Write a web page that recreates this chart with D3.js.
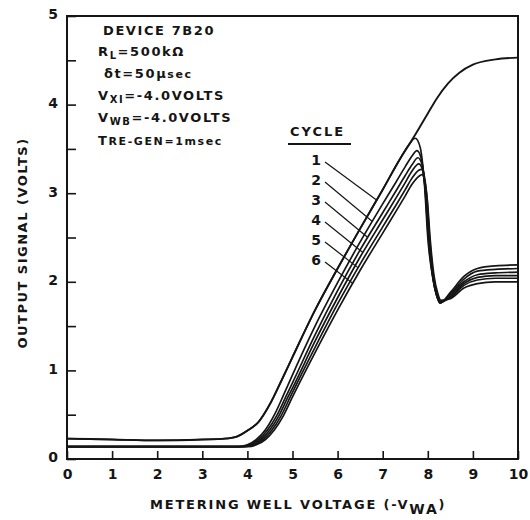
<!DOCTYPE html>
<html><head><meta charset="utf-8">
<script src="https://cdn.jsdelivr.net/npm/d3@7/dist/d3.min.js"></script>
<style>body{margin:0;background:#fff}svg{display:block}</style>
</head><body><svg id="c" width="530" height="520"></svg>
<script>
// ---- data ----
const xTicks = [0,1,2,3,4,5,6,7,8,9,10];
const xTickLabels = ["0","1","2","3","4","5","6","7","8","9","10"];
const yTicks = [0,0.5,1,1.5,2,2.5,3,3.5,4,4.5,5];
const yTickLabels = ["0","","1","","2","","3","","4","","5"];
const cycleNames = ["1","2","3","4","5","6"];

const cycle1 = [[0,0.23],[1,0.22],[2,0.21],[3,0.22],[3.5,0.23],[3.75,0.25],[4.0,0.32],[4.25,0.42],[4.5,0.62],[4.75,0.88],[5.0,1.15],[5.5,1.68],[6.0,2.15],[6.5,2.6],[7.0,3.04],[7.4,3.4],[7.6,3.56],[7.72,3.62],[7.83,3.52],[7.93,3.07],[8.0,2.5],[8.12,2.02],[8.2,1.84],[8.27,1.76],[8.5,1.88],[8.8,2.06],[9.1,2.15],[9.5,2.18],[10,2.19]];
const cycle2 = [[0,0.14],[1,0.14],[2,0.14],[3,0.14],[3.8,0.14],[4.0,0.16],[4.2,0.22],[4.4,0.33],[4.6,0.5],[4.8,0.72],[5.0,0.95],[5.5,1.5],[6.0,1.99],[6.5,2.45],[7.0,2.88],[7.3,3.13],[7.5,3.3],[7.65,3.42],[7.76,3.48],[7.85,3.4],[7.94,3.05],[8.01,2.5],[8.12,2.02],[8.2,1.84],[8.27,1.76],[8.5,1.86],[8.8,2.03],[9.1,2.12],[9.5,2.14],[10,2.15]];
const cycle3 = [[0,0.14],[1,0.14],[2,0.14],[3,0.14],[3.85,0.14],[4.05,0.16],[4.25,0.22],[4.45,0.33],[4.65,0.49],[4.85,0.7],[5.0,0.86],[5.5,1.4],[6.0,1.9],[6.5,2.36],[7.0,2.78],[7.3,3.03],[7.5,3.2],[7.65,3.32],[7.78,3.4],[7.87,3.33],[7.95,3.02],[8.02,2.5],[8.12,2.03],[8.2,1.84],[8.27,1.77],[8.5,1.85],[8.8,2.0],[9.1,2.08],[9.5,2.1],[10,2.11]];
const cycle4 = [[0,0.14],[1,0.14],[2,0.14],[3,0.14],[3.9,0.14],[4.1,0.16],[4.3,0.22],[4.5,0.33],[4.7,0.49],[4.9,0.7],[5.0,0.8],[5.5,1.33],[6.0,1.82],[6.5,2.28],[7.0,2.7],[7.3,2.95],[7.5,3.12],[7.65,3.25],[7.8,3.33],[7.88,3.27],[7.96,2.98],[8.03,2.5],[8.12,2.04],[8.2,1.85],[8.27,1.77],[8.5,1.83],[8.8,1.98],[9.1,2.05],[9.5,2.07],[10,2.07]];
const cycle5 = [[0,0.14],[1,0.14],[2,0.14],[3,0.14],[3.95,0.14],[4.15,0.16],[4.35,0.22],[4.55,0.33],[4.75,0.49],[4.95,0.7],[5.5,1.26],[6.0,1.75],[6.5,2.2],[7.0,2.62],[7.3,2.87],[7.5,3.04],[7.65,3.17],[7.8,3.26],[7.86,3.27],[7.92,3.2],[7.98,2.95],[8.04,2.5],[8.13,2.05],[8.21,1.86],[8.28,1.78],[8.5,1.82],[8.8,1.96],[9.1,2.02],[9.5,2.04],[10,2.04]];
const cycle6 = [[0,0.14],[1,0.14],[2,0.14],[3,0.14],[4.0,0.14],[4.2,0.16],[4.4,0.22],[4.6,0.33],[4.8,0.49],[5.0,0.7],[5.5,1.2],[6.0,1.68],[6.5,2.13],[7.0,2.55],[7.3,2.8],[7.5,2.97],[7.65,3.1],[7.8,3.19],[7.87,3.21],[7.93,3.14],[7.99,2.92],[8.05,2.5],[8.14,2.06],[8.22,1.87],[8.29,1.79],[8.5,1.81],[8.8,1.93],[9.1,1.98],[9.5,2.0],[10,2.0]];
// saturating trace continuing through the first peak
const upperTrace = [[0,0.23],[1,0.22],[2,0.21],[3,0.22],[3.5,0.23],[3.75,0.25],[4.0,0.32],[4.25,0.42],[4.5,0.62],[4.75,0.88],[5.0,1.15],[5.5,1.68],[6.0,2.15],[6.5,2.6],[7.0,3.04],[7.4,3.4],[7.6,3.56],[7.72,3.66],[8.0,3.9],[8.2,4.07],[8.45,4.24],[8.7,4.36],[9.0,4.45],[9.5,4.51],[10,4.53]];
// where each cycle's leader line touches its trace (data units)
const leaderEnds = [[6.87,2.92],[6.77,2.68],[6.67,2.5],[6.56,2.33],[6.45,2.16],[6.34,1.98]];

const cycles = [cycle1,cycle2,cycle3,cycle4,cycle5,cycle6];

// ---- drawing ----
const svg = d3.select("#c");
const W = 530, H = 520;
const x = d3.scaleLinear().domain([0,10]).range([67,518]);
const y = d3.scaleLinear().domain([0,5]).range([459,16]);
const ink = "#151515";
const font = "'DejaVu Sans', Verdana, sans-serif";

svg.append("rect").attr("width",W).attr("height",H).attr("fill","#fff");

// frame
svg.append("rect").attr("x",x(0)).attr("y",y(5)).attr("width",x(10)-x(0)).attr("height",y(0)-y(5))
  .attr("fill","none").attr("stroke",ink).attr("stroke-width",2);

// x axis (inward ticks)
const gx = svg.append("g").attr("transform",`translate(0,${y(0)})`)
  .call(d3.axisBottom(x).tickValues(xTicks).tickSizeInner(-8).tickSizeOuter(0).tickPadding(10)
    .tickFormat((d,i)=>xTickLabels[i]));
gx.select(".domain").remove();
gx.selectAll(".tick line").attr("stroke",ink).attr("stroke-width",1.6);
gx.selectAll(".tick text").attr("font-family",font).attr("font-weight","bold").attr("font-size",14).attr("fill",ink);

// y axis (inward ticks)
const gy = svg.append("g").attr("transform",`translate(${x(0)},0)`)
  .call(d3.axisLeft(y).tickValues(yTicks).tickSizeInner(-9).tickSizeOuter(0).tickPadding(9)
    .tickFormat((d,i)=>yTickLabels[i]));
gy.select(".domain").remove();
gy.selectAll(".tick line").attr("stroke",ink).attr("stroke-width",1.6);
gy.selectAll(".tick text").attr("font-family",font).attr("font-weight","bold").attr("font-size",14).attr("fill",ink).attr("dy","0.2em");

// curves
const line = d3.line().x(d=>x(d[0])).y(d=>y(d[1])).curve(d3.curveMonotoneX);
svg.append("path").datum(upperTrace).attr("d",line).attr("fill","none").attr("stroke",ink).attr("stroke-width",1.9);
svg.selectAll("path.cyc").data(cycles).join("path").attr("class","cyc")
  .attr("d",line).attr("fill","none").attr("stroke",ink).attr("stroke-width",1.7);

// legend
const tStyle = s => s.attr("font-family",font).attr("font-weight","bold").attr("fill",ink);
tStyle(svg.append("text").attr("x",290).attr("y",136).attr("font-size",13).attr("letter-spacing",2).text("CYCLE"));
svg.append("line").attr("x1",288).attr("x2",351).attr("y1",144).attr("y2",144).attr("stroke",ink).attr("stroke-width",2);
cycleNames.forEach((n,i)=>{
  const ly = 160 + i*20;
  tStyle(svg.append("text").attr("x",321).attr("y",ly+5).attr("text-anchor","end").attr("font-size",14).text(n));
  svg.append("line").attr("x1",325).attr("y1",ly+2).attr("x2",x(leaderEnds[i][0])).attr("y2",y(leaderEnds[i][1]))
    .attr("stroke",ink).attr("stroke-width",1.2);
});

// annotation block
const note = (tx,ty,parts) => {
  const t = tStyle(svg.append("text").attr("x",tx).attr("y",ty).attr("font-size",13).attr("letter-spacing",1.6));
  parts.forEach(p=>{
    const s = t.append("tspan").text(p[0]);
    if (p[1]==="sub") s.attr("font-size",10).attr("baseline-shift","-3");
    if (p[1]==="small") s.attr("font-size",11);
  });
};
note(103,35,[["DEVICE 7B20"]]);
note(98,56,[["R"],["L","sub"],["=500kΩ"]]);
note(104,78,[["δt=50"],["μ"],["sec","small"]]);
note(98,100,[["V"],["XI","sub"],["=-4.0VOLTS"]]);
note(98,122,[["V"],["WB","sub"],["=-4.0VOLTS"]]);
note(98,145,[["T"],["RE-GEN","small"],["=1msec","small"]]);

// axis titles
tStyle(svg.append("text").attr("transform","translate(27,243) rotate(-90)").attr("text-anchor","middle")
  .attr("font-size",13).attr("letter-spacing",1.5).text("OUTPUT SIGNAL (VOLTS)"));
const xt = tStyle(svg.append("text").attr("x",150).attr("y",509).attr("font-size",13).attr("letter-spacing",1.8));
xt.append("tspan").text("METERING WELL VOLTAGE (-V");
xt.append("tspan").attr("font-size",14).attr("baseline-shift","-5").text("WA");
xt.append("tspan").text(")");
</script></body></html>
